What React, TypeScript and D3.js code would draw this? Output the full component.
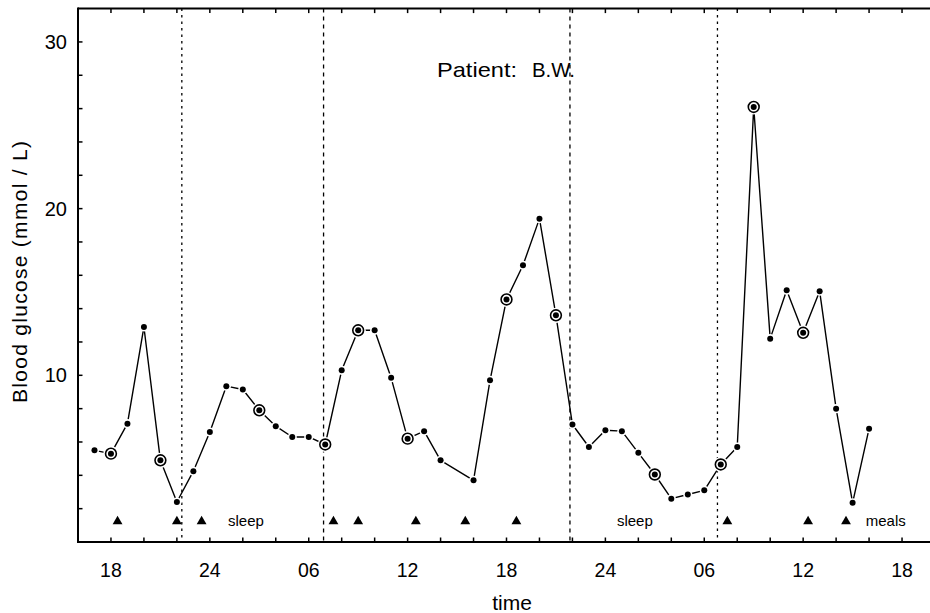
import React from "react";
import * as d3 from "d3";

// ---- data (hours counted continuously from day 1; 24 = midnight, 30 = 06h next day ...)
const sampleHours = [17, 18, 19, 20, 21, 22, 23, 24, 25, 26, 27, 28, 29, 30, 31, 32, 33, 34, 35, 36, 37, 38, 40, 41, 42, 43, 44, 45, 46, 47, 48, 49, 50, 51, 52, 53, 54, 55, 56, 57, 58, 59, 60, 61, 62, 63, 64];
const glucose = [5.5, 5.3, 7.1, 12.9, 4.9, 2.4, 4.25, 6.6, 9.35, 9.15, 7.9, 6.95, 6.3, 6.3, 5.85, 10.3, 12.7, 12.7, 9.85, 6.2, 6.65, 4.9, 3.7, 9.7, 14.55, 16.6, 19.4, 13.6, 7.05, 5.7, 6.7, 6.65, 5.35, 4.05, 2.6, 2.85, 3.1, 4.65, 5.7, 26.1, 12.2, 15.1, 12.55, 15.05, 8.0, 2.35, 6.8];
const circledHours = [18, 21, 27, 31, 33, 36, 42, 45, 51, 55, 57, 60];
const mealHours = [18.4, 22.0, 23.5, 31.5, 33.0, 36.5, 39.5, 42.6, 55.4, 60.3, 62.6];
const sleepBoundaryHours = [22.3, 30.9, 45.85, 54.8];
const xTickHours = [18, 24, 30, 36, 42, 48, 54, 60, 66];
const xTickLabels = ["18", "24", "06", "12", "18", "24", "06", "12", "18"];
const xMinorTickHours = d3.range(18, 67, 2);
const yTickValues = [10, 20, 30];
const yMinorTickValues = d3.range(2, 32, 2);
const sleepLabelHours = [25.1, 48.7];
const mealsLabelHour = 63.8;

const W = 930;
const H = 613;
const FONT = "'Liberation Sans', Arial, sans-serif";

export default function App() {
  const x = d3.scaleLinear().domain([16, 68]).range([78, 935]);
  const y = d3.scaleLinear().domain([0, 32]).range([542, 8.6]);
  const left = x(16);
  const top = y(32);
  const bottom = y(0);

  const pts = sampleHours.map((h, i) => ({ h, v: glucose[i], c: circledHours.includes(h) }));
  const line = d3
    .line<{ h: number; v: number }>()
    .x((d) => x(d.h))
    .y((d) => y(d.v));
  const tri = d3.symbol().type(d3.symbolTriangle).size(42)();

  return (
    <svg
      width={W}
      height={H}
      viewBox={`0 0 ${W} ${H}`}
      style={{ position: "absolute", left: 0, top: 0, background: "#fff" }}
    >
      <rect x={0} y={0} width={W} height={H} fill="#fff" />

      {/* sleep boundaries */}
      {sleepBoundaryHours.map((h, i) => (
        <line
          key={"s" + i}
          x1={x(h)}
          x2={x(h)}
          y1={top}
          y2={bottom}
          stroke="#000"
          strokeWidth={1.3}
          strokeDasharray={i % 3 === 0 ? "2.5,4" : "4,4"}
        />
      ))}

      {/* axes frame */}
      <line x1={left} x2={W + 5} y1={top} y2={top} stroke="#000" strokeWidth={2} />
      <line x1={left} x2={W + 5} y1={bottom} y2={bottom} stroke="#000" strokeWidth={2} />
      <line x1={left} x2={left} y1={top - 1} y2={bottom + 1} stroke="#000" strokeWidth={2} />

      {/* x ticks (inward, top and bottom) */}
      {xMinorTickHours.map((h) => (
        <g key={"xt" + h}>
          <line x1={x(h)} x2={x(h)} y1={bottom} y2={bottom - 4.5} stroke="#000" strokeWidth={1.5} />
          <line x1={x(h)} x2={x(h)} y1={top} y2={top + 4.5} stroke="#000" strokeWidth={1.5} />
        </g>
      ))}
      {xTickHours.map((h, i) => (
        <text
          key={"xl" + i}
          x={x(h)}
          y={577}
          textAnchor="middle"
          fontFamily={FONT}
          fontSize={19.5}
          fill="#000"
        >
          {xTickLabels[i]}
        </text>
      ))}

      {/* y ticks */}
      {yMinorTickValues.map((v) => (
        <line key={"yt" + v} x1={left} x2={left + 4.5} y1={y(v)} y2={y(v)} stroke="#000" strokeWidth={1.5} />
      ))}
      {yTickValues.map((v) => (
        <text
          key={"yl" + v}
          x={67}
          y={y(v) + 7}
          textAnchor="end"
          fontFamily={FONT}
          fontSize={20}
          fill="#000"
        >
          {v}
        </text>
      ))}

      {/* axis titles */}
      <text x={512} y={610} textAnchor="middle" fontFamily={FONT} fontSize={21} fill="#000">
        time
      </text>
      <text
        transform={`translate(27, ${272}) rotate(-90)`}
        textAnchor="middle"
        fontFamily={FONT}
        fontSize={21}
        fill="#000"
        textLength={262}
        lengthAdjust="spacing"
      >
        Blood glucose (mmol / L)
      </text>

      {/* title */}
      <text x={437} y={77} fontFamily={FONT} fontSize={21} fill="#000" textLength={80} lengthAdjust="spacingAndGlyphs">
        Patient:
      </text>
      <text x={532} y={77} fontFamily={FONT} fontSize={21} fill="#000" textLength={43} lengthAdjust="spacingAndGlyphs">
        B.W.
      </text>

      {/* data line */}
      <path d={line(pts) || ""} fill="none" stroke="#000" strokeWidth={1.4} strokeLinejoin="round" />

      {/* halos to break line near markers */}
      {pts.map((p, i) => (
        <circle key={"h" + i} cx={x(p.h)} cy={y(p.v)} r={p.c ? 7.6 : 4.6} fill="#fff" />
      ))}
      {pts.map((p, i) => (
        <g key={"m" + i}>
          {p.c && <circle cx={x(p.h)} cy={y(p.v)} r={5.4} fill="none" stroke="#000" strokeWidth={1.6} />}
          <circle cx={x(p.h)} cy={y(p.v)} r={3} fill="#000" />
        </g>
      ))}

      {/* meals */}
      {mealHours.map((h, i) => (
        <path key={"mt" + i} d={tri || ""} transform={`translate(${x(h)}, 521.5)`} fill="#000" />
      ))}

      {/* annotations */}
      {sleepLabelHours.map((h, i) => (
        <text key={"sl" + i} x={x(h)} y={526} fontFamily={FONT} fontSize={15} fill="#000">
          sleep
        </text>
      ))}
      <text x={x(mealsLabelHour)} y={526} fontFamily={FONT} fontSize={15} fill="#000">
        meals
      </text>
    </svg>
  );
}
